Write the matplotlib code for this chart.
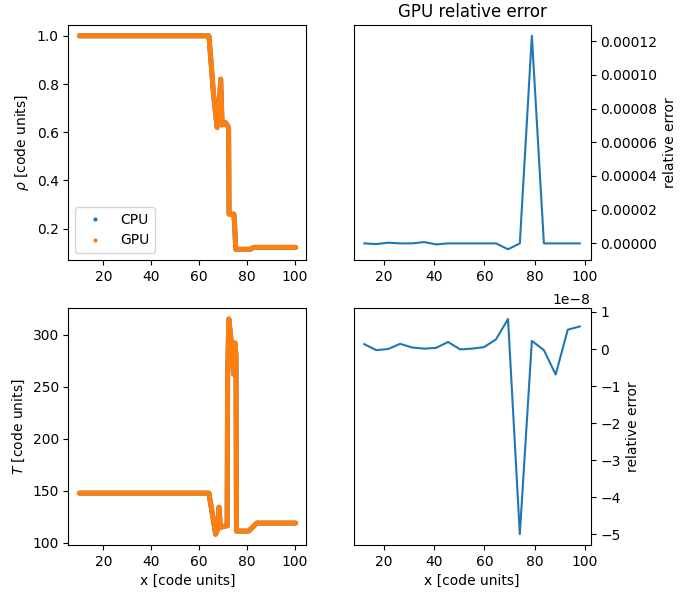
import matplotlib.pyplot as plt
from matplotlib.lines import Line2D

# profile breakpoints
x_rho = [10.0, 64.1, 64.9, 66.0, 67.5, 68.2, 69.0, 69.6, 71.0, 72.3, 72.5,
         73.1, 74.5, 74.8, 75.3, 81.4, 82.8, 100.3]
rho = [1.0, 1.0, 0.90, 0.76, 0.62, 0.66, 0.82, 0.63, 0.64, 0.62, 0.26,
       0.26, 0.26, 0.22, 0.114, 0.114, 0.122, 0.122]

x_T = [10.0, 64.1, 66.9, 67.6, 68.3, 68.9, 71.0, 71.7, 71.9, 72.4, 73.1,
       73.8, 74.4, 75.0, 75.4, 75.6, 80.7, 84.1, 100.3]
T = [147.5, 147.5, 108.0, 112.0, 134.0, 114.5, 116.0, 116.0, 259.0, 315.0,
     300.0, 285.0, 262.0, 292.0, 280.0, 111.0, 111.0, 118.7, 118.7]

# binned relative error GPU vs CPU
x_err = [12.1, 16.9, 21.6, 26.4, 31.2, 36.0, 40.7, 45.5, 50.3, 55.0, 59.8,
         64.6, 69.4, 74.1, 78.9, 83.7, 88.4, 93.2, 98.0]
err_rho = [0.0, -0.4e-6, 0.4e-6, 0.0, 0.0, 0.8e-6, -0.6e-6, 0.0, 0.0, 0.0,
           0.0, 0.0, -3.5e-6, 0.0, 1.231e-4, 0.0, 0.0, 0.0, 0.0]
err_T = [0.13e-8, -0.03e-8, 0.0, 0.14e-8, 0.04e-8, 0.01e-8, 0.03e-8,
         0.19e-8, -0.01e-8, 0.01e-8, 0.05e-8, 0.26e-8, 0.81e-8, -5.0e-8,
         0.22e-8, -0.03e-8, -0.69e-8, 0.52e-8, 0.61e-8]

fig = plt.figure(figsize=(6.89, 5.99), dpi=100)
ax1 = fig.add_axes([0.0994, 0.566, 0.3454, 0.392])
ax2 = fig.add_axes([0.5131, 0.566, 0.3440, 0.392])
ax3 = fig.add_axes([0.0994, 0.0902, 0.3454, 0.3952])
ax4 = fig.add_axes([0.5131, 0.0902, 0.3440, 0.3952])

# CPU drawn first, GPU on top (they coincide)
for ax, xs, ys in [(ax1, x_rho, rho), (ax3, x_T, T)]:
    for c in ('C0', 'C1'):
        ax.plot(xs, ys, color=c, lw=3.6,
                solid_capstyle='round', solid_joinstyle='round')

handles = [Line2D([], [], ls='none', marker='.', ms=4, color='C0'),
           Line2D([], [], ls='none', marker='.', ms=4, color='C1')]
ax1.legend(handles, ['CPU', 'GPU'], loc='lower left')
ax1.set_ylabel(r'$\rho$ [code units]')
ax3.set_ylabel(r'$T$ [code units]')
ax3.set_xlabel('x [code units]')

ax2.plot(x_err, err_rho, color='C0')
ax4.plot(x_err, err_T, color='C0')
ax2.set_title('GPU relative error')
ax4.set_xlabel('x [code units]')
for ax in (ax2, ax4):
    ax.yaxis.tick_right()
    ax.yaxis.set_label_position('right')
    ax.set_ylabel('relative error')

for ax in (ax1, ax2, ax3, ax4):
    ax.set_xticks([20, 40, 60, 80, 100])

fig.savefig('out.png', dpi=100)
